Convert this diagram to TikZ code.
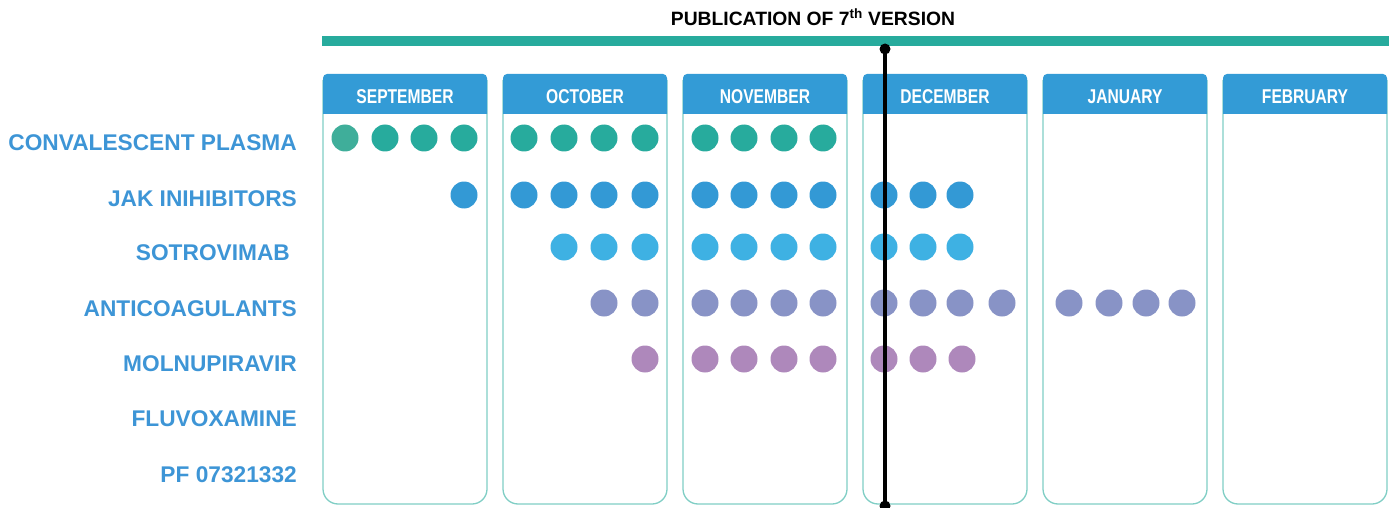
\documentclass[tikz,border=0pt]{standalone}
\usepackage{fontspec}
\setmainfont{Liberation Sans}
\newfontfamily\monthfont[FakeStretch=0.78]{Liberation Sans}
\definecolor{barteal}{HTML}{27AB9D}
\definecolor{boxline}{HTML}{80CEC5}
\definecolor{headblue}{HTML}{339BD6}
\definecolor{labelblue}{HTML}{3D95D6}
\definecolor{cPlasma}{HTML}{27AB9D}
\definecolor{cPlasmaA}{HTML}{3FAE9A}
\definecolor{cJak}{HTML}{3399D5}
\definecolor{cSotro}{HTML}{3EB1E3}
\definecolor{cAnti}{HTML}{8893C6}
\definecolor{cMoln}{HTML}{AE88BB}
\tikzset{
  druglabel/.style={anchor=base east, inner sep=0pt, text=labelblue,
    font=\fontsize{22.7}{26}\selectfont\bfseries},
  monthlabel/.style={anchor=base, inner sep=0pt, text=white,
    font=\monthfont\fontsize{20}{24}\selectfont\bfseries},
  dot/.style={circle, minimum size=27pt, inner sep=0pt, fill=#1},
  monthbox/.style={draw=boxline, line width=1.3pt},
}
\begin{document}
\begin{tikzpicture}[x=1pt,y=-1pt]
\useasboundingbox (0,0) rectangle (1395,508);

% title and timeline bar
\node[anchor=base, inner sep=0pt, font=\fontsize{19.3}{22}\selectfont\bfseries]
  (title) at (813,26) {PUBLICATION OF 7\textsuperscript{th} VERSION};
\fill[barteal] (322,36) rectangle (1389,46);

% month columns
\foreach \L/\name/\mon in {323/sep/SEPTEMBER,503/oct/OCTOBER,683/nov/NOVEMBER,
                           863/dec/DECEMBER,1043/jan/JANUARY,1223/feb/FEBRUARY}{
  \pgfmathsetmacro{\R}{\L+164}
  \draw[monthbox] (\L,80) {[rounded corners=15pt] -- (\L,504) -- (\R,504)} -- (\R,80);
  \fill[headblue] (\L,114) {[rounded corners=4pt] -- (\L,74) -- (\R,74)} -- (\R,114) -- cycle;
  \node[monthlabel] (m-\name) at (\L+82,103.5) {\mon};
}

% drug labels
\node[druglabel] (d-plasma) at (297,151) {CONVALESCENT PLASMA};
\node[druglabel] (d-jak)    at (297,206) {JAK INIHIBITORS};
\node[druglabel] (d-sotro)  at (290,260) {SOTROVIMAB};
\node[druglabel] (d-anti)   at (297,316) {ANTICOAGULANTS};
\node[druglabel] (d-moln)   at (297,371) {MOLNUPIRAVIR};
\node[druglabel] (d-fluv)   at (297,426) {FLUVOXAMINE};
\node[druglabel] (d-pf)     at (297,482) {PF 07321332};

% convalescent plasma
\node[dot=cPlasmaA] (p1) at (345,138) {};
\foreach \x [count=\i from 2] in {385,424,464,524,564,604,645,705,744,784,823}
  \node[dot=cPlasma] (p\i) at (\x,138) {};
% JAK inhibitors
\foreach \x [count=\i] in {464,524,564,604,645,705,744,784,823,884,923,960}
  \node[dot=cJak] (j\i) at (\x,195) {};
% sotrovimab
\foreach \x [count=\i] in {564,604,645,705,744,784,823,884,923,960}
  \node[dot=cSotro] (s\i) at (\x,247) {};
% anticoagulants
\foreach \x [count=\i] in {604,645,705,744,784,823,884,923,960,1002,1069,1109,1146,1182}
  \node[dot=cAnti] (a\i) at (\x,303) {};
% molnupiravir
\foreach \x [count=\i] in {645,705,744,784,823,884,923,962}
  \node[dot=cMoln] (n\i) at (\x,359) {};

% publication marker
\coordinate (vtop) at (885,49);
\coordinate (vbot) at (885,506);
\draw[line width=3.2pt] (vtop) -- (vbot);
\fill (vtop) circle (5.5pt);
\fill (vbot) circle (5.5pt);
\end{tikzpicture}
\end{document}
